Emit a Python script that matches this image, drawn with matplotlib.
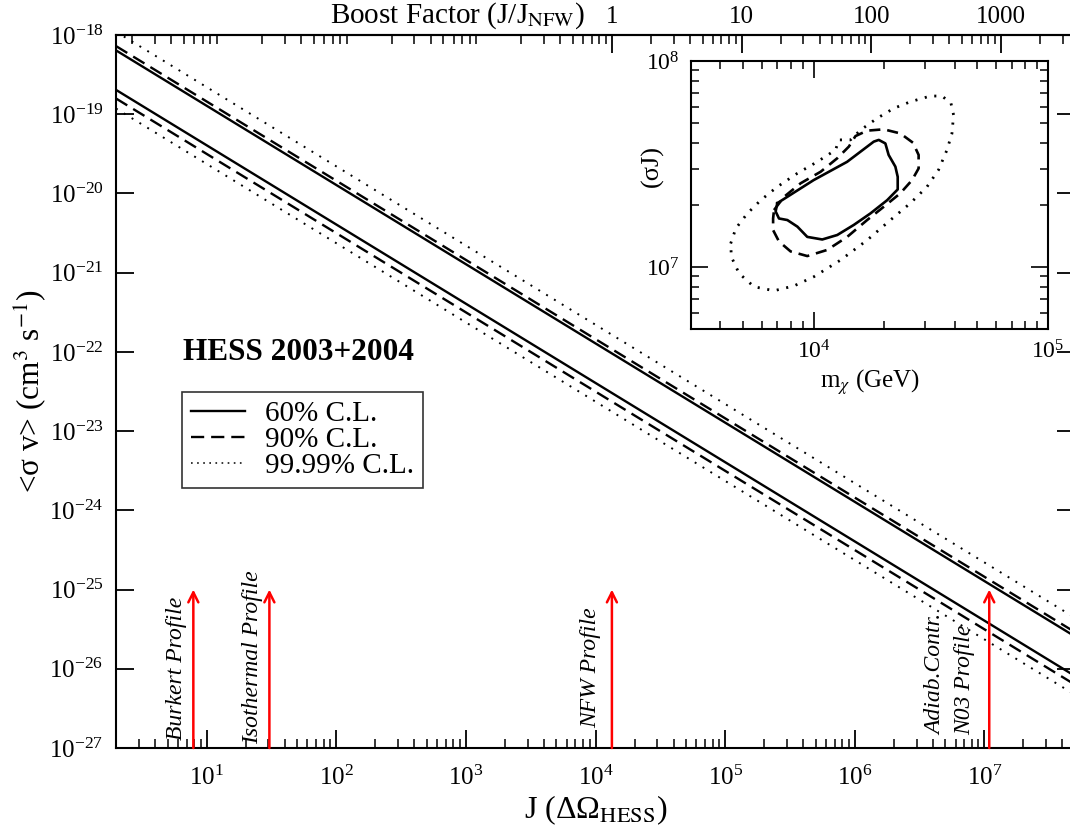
import numpy as np
import matplotlib
matplotlib.use('Agg')
import matplotlib.pyplot as plt
from matplotlib.lines import Line2D
from matplotlib.ticker import LogLocator, NullLocator, FixedLocator, FuncFormatter, NullFormatter

plt.rcParams['font.family'] = ['Liberation Serif', 'DejaVu Serif']
plt.rcParams['mathtext.fontset'] = 'stix'
plt.rcParams['lines.scale_dashes'] = False
plt.rcParams['axes.unicode_minus'] = False

# --- data ---
# limits on <sigma v> vs J: straight lines (slope -1), values at the two ends
j_ends = [2.0, 5e7]
sv_60_up = [6.4e-19, 2.56e-26]
sv_60_lo = [2.03e-19, 8.1e-27]
sv_90_up = [7.25e-19, 2.9e-26]
sv_90_lo = [1.58e-19, 6.3e-27]
sv_9999_up = [1.1e-18, 4.4e-26]
sv_9999_lo = [1.18e-19, 4.7e-27]

# halo profiles (J values of the arrows)
profile_J = [7.9, 30.5, 1.338e4, 1.09e7]
J_NFW = 1.338e4
boost_ticks = [1, 10, 100, 1000]
j_ticks = [1e1, 1e2, 1e3, 1e4, 1e5, 1e6, 1e7]
sv_ticks = [1e-27, 1e-26, 1e-25, 1e-24, 1e-23, 1e-22, 1e-21, 1e-20, 1e-19, 1e-18]

# inset contours: m_chi (GeV), sigma*J
c60_m = [7000, 10000, 13900, 18060, 18970, 20240, 20900, 22330, 22850, 22850, 20600,
         17480, 14840, 12620, 10890, 9400, 8530, 7730, 7120, 6890, 7000]
c60_s = [2.04e7, 2.64e7, 3.24e7, 4.06e7, 4.14e7, 3.98e7, 3.50e7, 3.07e7, 2.74e7, 2.38e7, 2.11e7,
         1.82e7, 1.60e7, 1.43e7, 1.36e7, 1.40e7, 1.57e7, 1.69e7, 1.72e7, 1.86e7, 2.04e7]
c90_m = [6780, 7480, 8810, 10720, 12610, 14140, 15090, 16920, 19920, 23450, 26550, 28060,
         28060, 26300, 23450, 19920, 16920, 13910, 11430, 9400, 7980, 7120, 6720, 6720, 6780]
c90_s = [1.89e7, 2.19e7, 2.55e7, 2.90e7, 3.37e7, 3.84e7, 4.32e7, 4.59e7, 4.66e7, 4.45e7, 4.01e7, 3.50e7,
         3.01e7, 2.64e7, 2.28e7, 1.96e7, 1.69e7, 1.40e7, 1.21e7, 1.13e7, 1.19e7, 1.33e7, 1.51e7, 1.72e7, 1.89e7]
c9999_m = [4430, 4660, 5220, 5950, 7000, 8530, 10360, 12410, 12820, 14370, 15850, 18660, 21970,
           25870, 31480, 35300, 38550, 39560, 38930, 37070, 34120, 30460, 25870, 21270, 16920,
           13030, 10030, 8240, 6780, 5570, 4810, 4460, 4430]
c9999_s = [1.30e7, 1.54e7, 1.82e7, 2.11e7, 2.45e7, 2.85e7, 3.24e7, 3.70e7, 4.14e7, 4.14e7, 4.62e7, 5.27e7, 5.89e7,
           6.34e7, 6.76e7, 6.76e7, 6.24e7, 5.47e7, 4.45e7, 3.70e7, 2.96e7, 2.45e7, 2.04e7, 1.69e7, 1.35e7,
           1.08e7, 8.97e6, 8.09e6, 7.67e6, 8.02e6, 9.31e6, 1.12e7, 1.30e7]

DASH = (0, (9.5, 5))
DOT = (0, (1.4, 5.2))

fig = plt.figure(figsize=(10.7, 8.32), dpi=100)
ax = fig.add_axes([116 / 1070, 1 - 748 / 832, 959 / 1070, 713 / 832])
ax.set_xscale('log')
ax.set_yscale('log')
ax.set_xlim(2, 5e7)
ax.set_ylim(1e-27, 1e-18)

lw = 1.7
ax.plot(j_ends, sv_60_up, color='k', lw=lw)
ax.plot(j_ends, sv_60_lo, color='k', lw=lw)
ax.plot(j_ends, sv_90_up, color='k', lw=lw, linestyle=DASH)
ax.plot(j_ends, sv_90_lo, color='k', lw=lw, linestyle=DASH)
ax.plot(j_ends, sv_9999_up, color='k', lw=1.4, linestyle=DOT)
ax.plot(j_ends, sv_9999_lo, color='k', lw=1.4, linestyle=DOT)

for jp in profile_J:
    ax.annotate('', xy=(jp, 1e-25), xytext=(jp, 1e-27),
                arrowprops=dict(arrowstyle='->', color='red', lw=1.8, mutation_scale=18,
                                shrinkA=0, shrinkB=0))

lab_kw = dict(rotation=90, ha='center', va='bottom', style='italic', fontsize=17)
ax.text(5.9, 1.26e-27, 'Burkert Profile', **lab_kw)
ax.text(22.6, 1.13e-27, 'Isothermal Profile', **lab_kw)
ax.text(9190, 1.78e-27, 'NFW Profile', **lab_kw)
ax.text(4.2e6, 1.47e-27, 'Adiab.Contr.', **lab_kw)
ax.text(7.06e6, 1.47e-27, 'N03 Profile', **lab_kw)

for s in ax.spines.values():
    s.set_linewidth(1.5)
ax.yaxis.set_major_locator(FixedLocator(sv_ticks))
ax.yaxis.set_minor_locator(NullLocator())
ax.xaxis.set_major_locator(FixedLocator(j_ticks))
ax.xaxis.set_minor_locator(LogLocator(base=10, subs=range(2, 10), numticks=20))
ax.xaxis.set_minor_formatter(NullFormatter())
ax.tick_params(which='major', direction='in', length=13, width=1.3, labelsize=18,
               top=False, right=True)
ax.tick_params(axis='x', which='major', pad=13)
ax.tick_params(axis='y', which='major', pad=9)
ax.tick_params(which='minor', direction='in', length=6.5, width=1.1, top=False)
ax.set_xlabel('J (ΔΩ$_{\\rm HESS}$)', fontsize=23, labelpad=2)
ax.set_ylabel('<σ v> (cm$^{3}$ s$^{-1}$)', fontsize=22.5, labelpad=0)

secax = ax.secondary_xaxis('top', functions=(lambda j: j / J_NFW, lambda b: b * J_NFW))
secax.xaxis.set_major_locator(FixedLocator(boost_ticks))
secax.xaxis.set_major_formatter(FuncFormatter(lambda v, p: '%g' % v))
secax.xaxis.set_minor_locator(LogLocator(base=10, subs=range(2, 10), numticks=20))
secax.xaxis.set_minor_formatter(NullFormatter())
secax.tick_params(which='major', direction='in', length=13, width=1.3, labelsize=18, pad=5)
secax.tick_params(which='minor', direction='in', length=6.5, width=1.1)
secax.spines['top'].set_linewidth(1.5)
fig.text(585 / 1070, 1 - 16 / 832, r'Boost Factor (J/J$_{\rm NFW}$)', ha='right', va='center',
         fontsize=21)

fig.text(183 / 1070, 1 - 352 / 832, 'HESS 2003+2004', fontsize=22.5, fontweight='bold', va='center')

handles = [Line2D([], [], color='k', lw=lw),
           Line2D([], [], color='k', lw=lw, linestyle=DASH),
           Line2D([], [], color='k', lw=1.1, linestyle=(0, (1.2, 3.2)))]
leg = fig.legend(handles, ['60% C.L.', '90% C.L.', '99.99% C.L.'], loc='upper left',
                 bbox_to_anchor=(182 / 1070, 1 - 392 / 832), fontsize=21, frameon=True,
                 fancybox=False, edgecolor='k', handlelength=1.85, handletextpad=0.7,
                 borderpad=0.3, labelspacing=-0.02, borderaxespad=0)
leg.get_frame().set_linewidth(1.2)

# inset
ins = fig.add_axes([691 / 1070, 1 - 329 / 832, 357 / 1070, 268 / 832])
ins.set_xscale('log')
ins.set_yscale('log')
ins.set_xlim(3000, 1e5)
ins.set_ylim(5e6, 1e8)
ins.plot(c60_m, c60_s, color='k', lw=1.9)
ins.plot(c90_m, c90_s, color='k', lw=1.9, linestyle=(0, (8, 5)))
ins.plot(c9999_m, c9999_s, color='k', lw=2.0, linestyle=(0, (1.5, 5.5)))
for s in ins.spines.values():
    s.set_linewidth(1.5)
ins.xaxis.set_major_locator(FixedLocator([1e4, 1e5]))
ins.yaxis.set_major_locator(FixedLocator([1e7, 1e8]))
ins.tick_params(which='major', direction='in', length=12, width=1.2, labelsize=17,
                top=True, right=True, pad=8)
ins.tick_params(which='minor', direction='in', length=6, width=1.1, top=True, right=True)
ins.set_xlabel('m$_{\\chi}$ (GeV)', fontsize=18, labelpad=3)
ins.set_ylabel('(σJ)', fontsize=19)
ins.yaxis.set_label_coords(-0.075, 0.61)

fig.savefig('out.png', dpi=100)
